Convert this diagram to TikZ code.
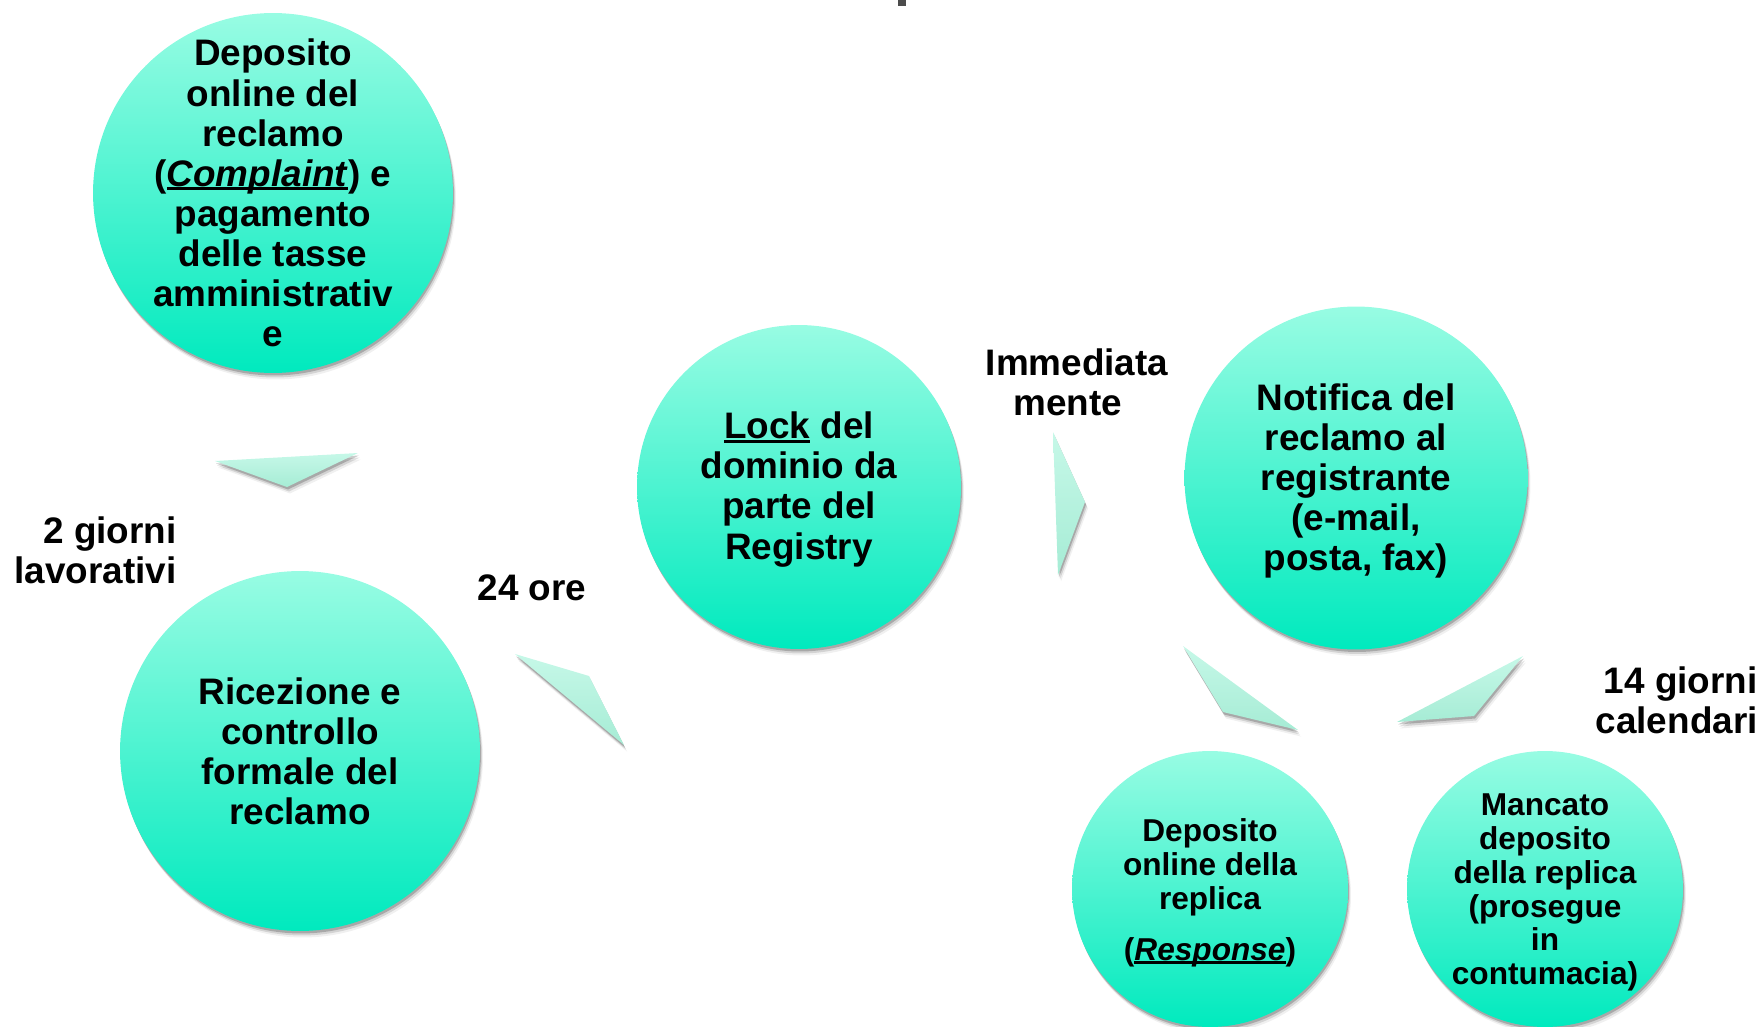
\documentclass[tikz,border=0pt]{standalone}
\usepackage{fontspec}
\setmainfont{Liberation Sans}
\usetikzlibrary{shadows}

\definecolor{bubtop}{RGB}{152,252,227}
\definecolor{bubbot}{RGB}{0,234,190}
\definecolor{arrtop}{RGB}{198,248,232}
\definecolor{arrbot}{RGB}{166,236,213}

% thick underline close to the baseline
\newcommand\uword[1]{\setbox0\hbox{#1}\rlap{\rule[-0.11em]{\wd0}{0.08em}}\box0\relax}

\tikzset{
  softshadow/.style={
    drop shadow={shadow xshift=0.02cm,shadow yshift=-0.05cm,opacity=0.2,fill=black},
    drop shadow={shadow xshift=0.04cm,shadow yshift=-0.09cm,opacity=0.12,fill=black},
    drop shadow={shadow xshift=0.06cm,shadow yshift=-0.13cm,opacity=0.06,fill=black}},
  bubble/.style={circle,inner sep=0pt,draw=none,top color=bubtop,bottom color=bubbot,softshadow},
  bigtext/.style={align=center,inner sep=0pt,font=\fontsize{21}{22.8}\selectfont\bfseries},
  smalltext/.style={align=center,inner sep=0pt,font=\fontsize{18}{19.3}\selectfont\bfseries},
  arrowshape/.style={top color=arrtop,bottom color=arrbot,softshadow}
}

\begin{document}
\begin{tikzpicture}[x=0.02cm,y=-0.02cm]

% page size (pixels):
\useasboundingbox (0,0) rectangle (1764,1027);
% bubble diameters:
\pgfmathsetmacro\dbig{7.2}
\pgfmathsetmacro\dlock{6.48}
\pgfmathsetmacro\dnote{6.86}
\pgfmathsetmacro\dsmall{5.52}

% cut-off title
\fill[black!70] (898,0) rectangle (906,6);

% the arrows
\foreach \ax/\ay/\bx/\by/\cx/\cy in {215/461/358/453/287/487, 515/654/589/676/624/745,
    1053/432/1085/502/1058/575, 1183/646/1223/712/1298/730, 1523/656/1474/716/1397/722}{
  \path[arrowshape] (\ax,\ay) -- (\bx,\by) -- (\cx,\cy) -- cycle;
}

% the bubbles
\node[bubble,minimum size=\dbig cm] (complaint) at (273,193) {};
\node[bubble,minimum size=\dbig cm] (ricezione) at (300,751) {};
\node[bubble,minimum size=\dlock cm] (lock) at (799,487) {};
\node[bubble,minimum size=\dnote cm] (notifica) at (1356,478) {};
\node[bubble,minimum size=\dsmall cm] (response) at (1210,889) {};
\node[bubble,minimum size=\dsmall cm] (contumacia) at (1545,889) {};

\node[bigtext] at (complaint) {Deposito\\online del\\reclamo\\(\uword{\textit{Complaint}}) e\\pagamento\\delle tasse\\amministrativ\\e};
\node[bigtext] at (ricezione) {Ricezione e\\controllo\\formale del\\reclamo};
\node[bigtext,yshift=-0.05cm] at (lock) {\uword{Lock} del\\dominio da\\parte del\\Registry};
\node[bigtext,yshift=-0.06cm] at (notifica) {Notifica del\\reclamo al\\registrante\\(e-mail,\\posta, fax)};
\node[smalltext,yshift=-0.08cm] at (response) {Deposito\\online della\\replica\\[0.34cm](\uword{\textit{Response}})};
\node[smalltext,yshift=-0.07cm] at (contumacia) {Mancato\\deposito\\della replica\\(prosegue\\in\\contumacia)};

% the times
\node[bigtext,align=right,anchor=east] (lbldue) at (177,550) {2 giorni\\lavorativi};
\node[bigtext] (lblore) at (532,588) {24 ore};
\node[bigtext] (lblsubito) at (1077,382) {Immediata\\mente\hspace*{0.36cm}};
\node[bigtext,align=right,anchor=east] (lblquattordici) at (1758,700) {14 giorni\\calendari};

\end{tikzpicture}
\end{document}
